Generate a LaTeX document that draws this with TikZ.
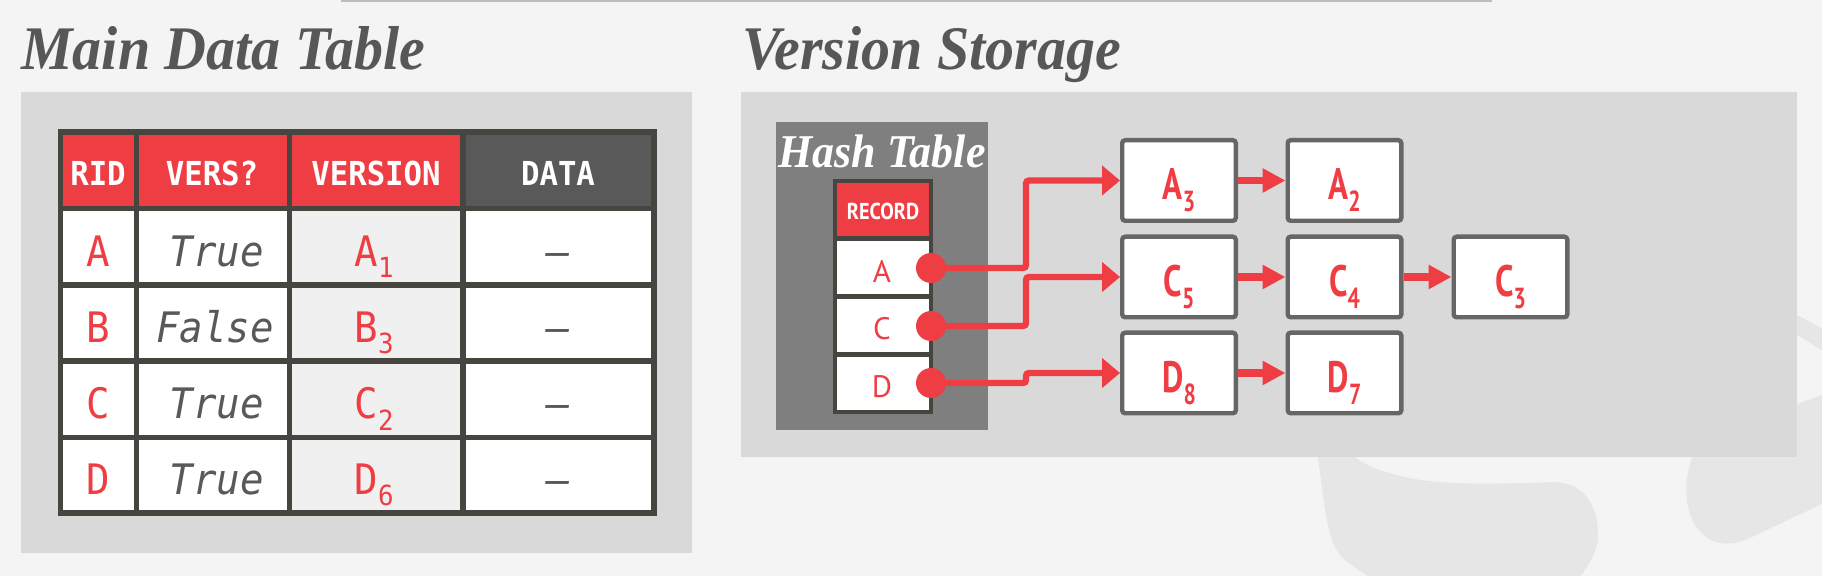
\documentclass[tikz,border=0pt]{standalone}
\usepackage{fontspec}
\setmainfont{Liberation Serif}
\newfontfamily\titrefont[FakeStretch=0.935]{Liberation Serif}
\newfontfamily\monofont[FakeStretch=0.93]{DejaVu Sans Mono}
\newfontfamily\etroitfont[FakeStretch=0.75]{PT Sans}
\newfontfamily\recfont[FakeStretch=0.88]{PT Sans}
\newfontfamily\lettrefont{PT Sans}
\usepackage{graphicx}
\usepackage{tikz}
\usetikzlibrary{arrows.meta, positioning}
\usepackage{color}

\definecolor{rouge}{HTML}{EE3E44}
\definecolor{fond}{HTML}{F4F4F4}
\definecolor{panneau}{HTML}{D9D9D9}
\definecolor{trait}{HTML}{47453F}
\definecolor{grisdata}{HTML}{595959}
\definecolor{grishash}{HTML}{7F7F7F}
\definecolor{grisboite}{HTML}{666666}
\definecolor{grisversion}{HTML}{F0F0F0}
\definecolor{filigrane}{HTML}{E6E6E6}
\definecolor{gristitre}{HTML}{575757}

\newcommand{\indice}[1]{\raisebox{-.27em}{\scalebox{.66}{#1}}}

\tikzstyle{titre} = [anchor=base west, inner sep=0pt, text=gristitre, font=\fontsize{31}{31}\titrefont\bfseries\itshape]
\tikzstyle{entete} = [anchor=base, inner sep=0pt, text=white, font=\fontsize{16.5}{16.5}\monofont\bfseries]
\tikzstyle{cellule} = [anchor=base, inner sep=0pt, text=rouge, font=\fontsize{21}{21}\monofont]
\tikzstyle{vers} = [anchor=base, inner sep=0pt, text=grisdata, font=\fontsize{21}{21}\monofont\itshape]
\tikzstyle{lettre} = [anchor=base, inner sep=0pt, text=rouge, font=\fontsize{15.5}{15.5}\lettrefont]
\tikzstyle{boite} = [draw=grisboite, fill=white, line width=2.2pt, rounded corners=1.5pt, minimum width=56.8pt, minimum height=40.3pt, text=rouge, text height=19.5pt, text depth=0pt, font=\fontsize{22}{22}\etroitfont\bfseries]
\tikzstyle{point} = [circle, fill=rouge, minimum size=15pt, inner sep=0pt]
\tikzstyle{fleche} = [-{Triangle[length=9pt,width=14.5pt]}, draw=rouge, line width=3.2pt, rounded corners=1.5pt]
\tikzstyle{fleche2} = [-{Triangle[length=11.5pt,width=11.5pt]}, draw=rouge, line width=3.7pt]

\begin{document}
\begin{tikzpicture}[x=0.5pt,y=-0.5pt]
	\useasboundingbox (0,0) rectangle (1822,576);
	\fill[fond] (0,0) rectangle (1822,576);

	% logo en filigrane
	\fill[filigrane] (1314,440) -- (1318,457) .. controls (1324,500) and (1326,545) .. (1345,560) .. controls (1360,572) and (1375,580) .. (1390,590) -- (1570,590) .. controls (1590,565) and (1600,548) .. (1598,530) .. controls (1596,500) and (1580,482) .. (1553,482) .. controls (1500,484) and (1440,486) .. (1400,476) .. controls (1370,468) and (1350,460) .. (1343,440) -- cycle;
	\fill[filigrane] (1700,440) .. controls (1686,465) and (1680,500) .. (1695,525) .. controls (1708,545) and (1728,548) .. (1750,538) -- (1830,500) -- (1830,392) -- cycle;
	\draw[filigrane, line width=9pt] (1780,318) .. controls (1800,325) and (1815,335) .. (1830,345);

	\draw[color={rgb,255:red,189;green,189;blue,189}, line width=1pt] (341,1) -- (1492,1);

	\fill[panneau] (21,92) rectangle (692,553);
	\fill[panneau] (741,92) rectangle (1797,457);

	\node[titre] (MDT) at (21,70) {Main Data Table};
	\node[titre] (VS) at (742,70) {Version Storage};

	% table principale
	\fill[rouge] (60.5,132) rectangle (463,208.5);
	\fill[grisdata] (463,132) rectangle (654,208.5);
	\fill[white] (60.5,208.5) rectangle (654,513);
	\fill[grisversion] (289.5,208.5) rectangle (463,513);
	\draw[trait, line width=2.6pt] (60.5,132) rectangle (654,513);
	\draw[trait, line width=2.6pt] (60.5,208.5) -- (654,208.5);
	\draw[trait, line width=2.6pt] (60.5,285) -- (654,285);
	\draw[trait, line width=2.6pt] (60.5,361) -- (654,361);
	\draw[trait, line width=2.6pt] (60.5,437.5) -- (654,437.5);
	\draw[trait, line width=2.6pt] (136.5,132) -- (136.5,513);
	\draw[trait, line width=2.6pt] (289.5,132) -- (289.5,513);
	\draw[trait, line width=2.6pt] (463,132) -- (463,513);

	\node[entete] (hRID) at (98,186) {RID};
	\node[entete] (hVERS) at (212,186) {VERS?};
	\node[entete] (hVERSION) at (376,186) {VERSION};
	\node[entete] (hDATA) at (558,186) {DATA};

	\node[cellule] (rA) at (98,266.5) {A};
	\node[vers] (vA) at (217,266.5) {True};
	\node[cellule] (A1) at (374,266.5) {A\indice{1}};
	\node[vers] (dA) at (558,266.5) {–};

	\node[cellule] (rB) at (98,342.5) {B};
	\node[vers] (vB) at (215,342.5) {False};
	\node[cellule] (B3) at (374,342.5) {B\indice{3}};
	\node[vers] (dB) at (558,342.5) {–};

	\node[cellule] (rC) at (98,419) {C};
	\node[vers] (vC) at (217,419) {True};
	\node[cellule] (C2) at (374,419) {C\indice{2}};
	\node[vers] (dC) at (558,419) {–};

	\node[cellule] (rD) at (98,494.5) {D};
	\node[vers] (vD) at (217,494.5) {True};
	\node[cellule] (D6) at (374,494.5) {D\indice{6}};
	\node[vers] (dD) at (558,494.5) {–};

	% table de hachage
	\fill[grishash] (776,122) rectangle (988,430);
	\node[anchor=base, inner sep=0pt, text=white, font=\fontsize{23.5}{23.5}\titrefont\bfseries\itshape] (HT) at (882,168) {Hash Table};
	\fill[rouge] (835,181) rectangle (931,239);
	\fill[white] (835,239) rectangle (931,412);
	\draw[trait, line width=2.3pt] (835,181) rectangle (931,412);
	\draw[trait, line width=2.5pt] (835,239) -- (931,239);
	\draw[trait, line width=2.5pt] (835,297) -- (931,297);
	\draw[trait, line width=2.5pt] (835,355) -- (931,355);

	\node[anchor=base, inner sep=0pt, text=white, font=\fontsize{11.5}{11.5}\recfont\bfseries] (REC) at (883,220) {RECORD};
	\node[lettre] (hA) at (882,283) {A};
	\node[lettre] (hC) at (882,340) {C};
	\node[lettre] (hD) at (882,398) {D};

	\node[point] (pA) at (931,268) {};
	\node[point] (pC) at (931,326) {};
	\node[point] (pD) at (931,383) {};

	% versions
	\node[boite] (A3) at (1179,180.5) {A\indice{3}};
	\node[boite] (A2) at (1344.5,180.5) {A\indice{2}};
	\node[boite] (C5) at (1179,277) {C\indice{5}};
	\node[boite] (C4) at (1344.5,277) {C\indice{4}};
	\node[boite] (C3) at (1510.5,277) {C\indice{3}};
	\node[boite] (D8) at (1179,373) {D\indice{8}};
	\node[boite] (D7) at (1344.5,373) {D\indice{7}};

	\coordinate (coude) at (1026,0);
	\draw[fleche] (pA.center) -- (pA.center -| coude) |- (A3.west);
	\draw[fleche] (pC.center) -- (pC.center -| coude) |- (C5.west);
	\draw[fleche] (pD.center) -- (pD.center -| coude) |- (D8.west);

	\draw[fleche2] (A3) -- (A2);
	\draw[fleche2] (C5) -- (C4);
	\draw[fleche2] (C4) -- (C3);
	\draw[fleche2] (D8) -- (D7);
\end{tikzpicture}
\end{document}
